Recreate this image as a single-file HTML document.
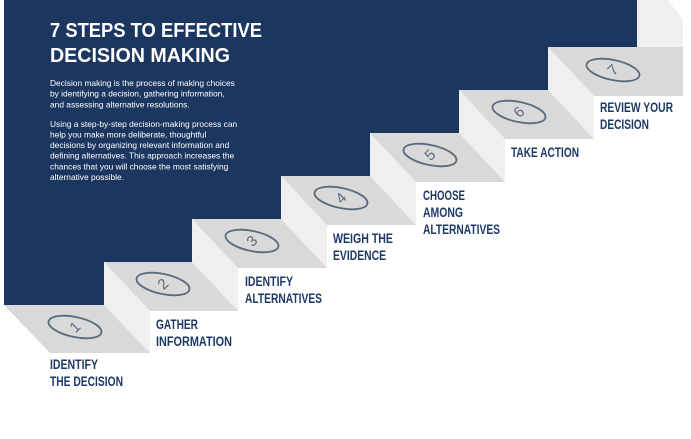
<!DOCTYPE html>
<html><head><meta charset="utf-8"><style>
html,body{margin:0;padding:0;background:#fff;width:691px;height:439px;overflow:hidden}
svg{display:block}
.l{font-family:"Liberation Sans Narrow","Liberation Sans",sans-serif;font-weight:bold;font-size:13.5px;fill:#1d3a66}
.p{font-family:"Liberation Sans",sans-serif;font-size:8.4px;fill:#fff}
.n{font-family:"Liberation Sans",sans-serif;font-size:15px;fill:#5a6b80}
</style></head><body>
<svg width="691" height="439" viewBox="0 0 691 439" xmlns="http://www.w3.org/2000/svg">
<polygon fill="#1b365f" points="4,0 637,0 637,47 548,47 548,90 459,90 459,133 370,133 370,176 281,176 281,219 192,219 192,262 104,262 104,305 4,305"/>
<polygon fill="#f0eff0" points="637,0 668,0 683,20 683,47 637,47"/>
<g>
<polygon fill="#f0eff0" points="104,262 150,311 150,353 104,305"/>
<polygon fill="#f0eff0" points="192,219 238,268 238,311 192,262"/>
<polygon fill="#f0eff0" points="281,176 327,225 327,268 281,219"/>
<polygon fill="#f0eff0" points="370,133 416,182 416,225 370,176"/>
<polygon fill="#f0eff0" points="459,90 505,139 505,182 459,133"/>
<polygon fill="#f0eff0" points="548,47 594,96 594,139 548,90"/>

<polygon fill="#d9d9d9" points="4,305 104,305 150,353 50,353"/>
<polygon fill="#d9d9d9" points="104,262 192,262 238,311 150,311"/>
<polygon fill="#d9d9d9" points="192,219 281,219 327,268 238,268"/>
<polygon fill="#d9d9d9" points="281,176 370,176 416,225 327,225"/>
<polygon fill="#d9d9d9" points="370,133 459,133 505,182 416,182"/>
<polygon fill="#d9d9d9" points="459,90 548,90 594,139 505,139"/>
<polygon fill="#d9d9d9" points="548,47 683,47 683,96 594,96"/>
</g>
<g fill="none" stroke="#5a6b80" stroke-width="1.8">
<ellipse cx="75" cy="327" rx="27" ry="10" transform="rotate(12 75 327)"/>
<ellipse cx="163" cy="284" rx="27" ry="10" transform="rotate(12 163 284)"/>
<ellipse cx="252" cy="241" rx="27" ry="10" transform="rotate(12 252 241)"/>
<ellipse cx="341" cy="198" rx="27" ry="10" transform="rotate(12 341 198)"/>
<ellipse cx="430" cy="155" rx="27" ry="10" transform="rotate(12 430 155)"/>
<ellipse cx="519" cy="112" rx="27" ry="10" transform="rotate(12 519 112)"/>
<ellipse cx="613" cy="70" rx="27" ry="10" transform="rotate(12 613 70)"/>
</g>
<g class="n" text-anchor="middle">
<text x="75" y="332" transform="rotate(-45 75 327)">1</text>
<text x="163" y="289" transform="rotate(-45 163 284)">2</text>
<text x="252" y="246" transform="rotate(-45 252 241)">3</text>
<text x="341" y="203" transform="rotate(-45 341 198)">4</text>
<text x="430" y="160" transform="rotate(-45 430 155)">5</text>
<text x="519" y="117" transform="rotate(-45 519 112)">6</text>
<text x="613" y="75" transform="rotate(-45 613 70)">7</text>
</g>
<g font-family="Liberation Sans,sans-serif" font-weight="bold" font-size="20" fill="#fff">
<text x="50" y="37" textLength="212" lengthAdjust="spacingAndGlyphs">7 STEPS TO EFFECTIVE</text>
<text x="50" y="62" textLength="180" lengthAdjust="spacingAndGlyphs">DECISION MAKING</text>
</g>
<g class="p">
<text x="50" y="86">Decision making is the process of making choices</text>
<text x="50" y="96.5">by identifying a decision, gathering information,</text>
<text x="50" y="107.5">and assessing alternative resolutions.</text>
<text x="50" y="127">Using a step-by-step decision-making process can</text>
<text x="50" y="137.5">help you make more deliberate, thoughtful</text>
<text x="50" y="148">decisions by organizing relevant information and</text>
<text x="50" y="158.5">defining alternatives. This approach increases the</text>
<text x="50" y="169.5">chances that you will choose the most satisfying</text>
<text x="50" y="180">alternative possible.</text>
</g>
<g class="l">
<text x="50" y="369" textLength="48" lengthAdjust="spacingAndGlyphs">IDENTIFY</text>
<text x="50" y="386" textLength="73" lengthAdjust="spacingAndGlyphs">THE DECISION</text>
<text x="156" y="329" textLength="42" lengthAdjust="spacingAndGlyphs">GATHER</text>
<text x="156" y="346" textLength="76" lengthAdjust="spacingAndGlyphs">INFORMATION</text>
<text x="245" y="286" textLength="48" lengthAdjust="spacingAndGlyphs">IDENTIFY</text>
<text x="245" y="303" textLength="77" lengthAdjust="spacingAndGlyphs">ALTERNATIVES</text>
<text x="333" y="243" textLength="60" lengthAdjust="spacingAndGlyphs">WEIGH THE</text>
<text x="333" y="260" textLength="53" lengthAdjust="spacingAndGlyphs">EVIDENCE</text>
<text x="423" y="200" textLength="42" lengthAdjust="spacingAndGlyphs">CHOOSE</text>
<text x="423" y="217" textLength="40" lengthAdjust="spacingAndGlyphs">AMONG</text>
<text x="423" y="234" textLength="77" lengthAdjust="spacingAndGlyphs">ALTERNATIVES</text>
<text x="511" y="157" textLength="68" lengthAdjust="spacingAndGlyphs">TAKE ACTION</text>
<text x="600" y="112" textLength="73" lengthAdjust="spacingAndGlyphs">REVIEW YOUR</text>
<text x="600" y="129" textLength="49" lengthAdjust="spacingAndGlyphs">DECISION</text>
</g>
</svg>
</body></html>
